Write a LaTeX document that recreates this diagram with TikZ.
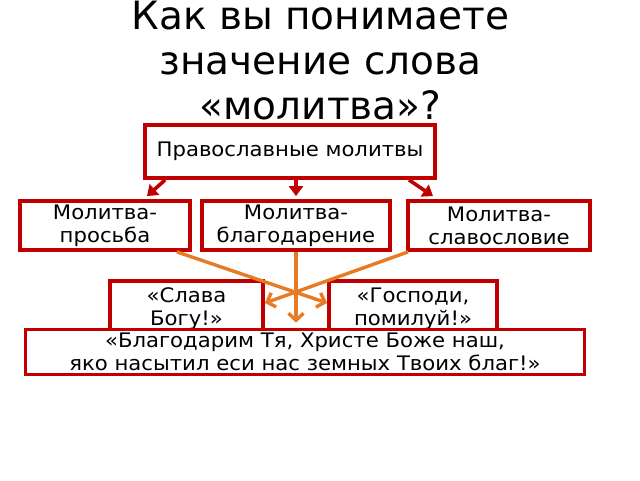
\documentclass[tikz,border=0pt]{standalone}
\usepackage{fontspec}
\setmainfont{DejaVu Sans}
\newfontfamily\boxfont[FakeStretch=1.06]{DejaVu Sans}
\usetikzlibrary{positioning, arrows.meta, calc}
\definecolor{boxRed}{HTML}{C00000}
\definecolor{lineOrange}{HTML}{E97A24}

\tikzset{
	redBox/.style={draw=boxRed, line width=3.8pt, fill=white, align=center, inner sep=0pt,
		font=\boxfont\fontsize{20}{23}\selectfont},
	redArrow/.style={draw=boxRed, line width=3.6pt, -{Triangle[length=10pt,width=14pt]}},
	orangeArrow/.style={draw=lineOrange, line width=3.4pt, -{Straight Barb[length=7pt,width=15pt]}}
}

\begin{document}
\begin{tikzpicture}[x=1pt,y=-1pt]
		
		\useasboundingbox (0,0) rectangle (640,480);
		
		%Title
		\node (title) at (320.5,0.6) [anchor=north, align=center, inner sep=0pt,
		font=\fontsize{39}{45}\selectfont]{Как вы понимаете\\значение слова\\«молитва»?};
		
		%Top box
		\node[redBox, minimum width=290pt, minimum height=53pt] (pravoslav) at (290,151.5) {Православные молитвы};
		
		%Kinds of prayer
		\node[redBox, minimum width=170pt, minimum height=49pt] (prosba) at (105,225.5) {Молитва-\\просьба};
		\node[redBox, minimum width=188pt, minimum height=49pt] (blagodar) at (296,225.5) {Молитва-\\благодарение};
		\node[redBox, minimum width=182pt, minimum height=49pt] (slavoslov) at (499,225.5) {Молитва-\\славословие};
		
		%Short prayers
		\node[redBox, minimum width=153pt, inner ysep=7pt, anchor=north] (slava) at (186.5,279) {«Слава\\Богу!»};
		\node[redBox, minimum width=168pt, inner ysep=7pt, anchor=north] (gospodi) at (413,279) {«Господи,\\помилуй!»};
		
		%Long prayer
		\node[redBox, minimum width=559pt, minimum height=45pt] (blagodarim) at (305,352) {«Благодарим Тя, Христе Боже наш,\\яко насытил еси нас земных Твоих благ!»};
		
		%Red arrows
		\draw[redArrow] ([xshift=22pt]pravoslav.south west) -- ([xshift=42pt,yshift=3pt]prosba.north);
		\draw[redArrow] (blagodar.north |- pravoslav.south) -- ([yshift=3pt]blagodar.north);
		\draw[redArrow] ([xshift=-28pt]pravoslav.south east) -- ([xshift=-66pt,yshift=3pt]slavoslov.north);
		
		%Orange arrows
		\draw[orangeArrow] ([xshift=-15pt]prosba.south east) -- ([yshift=-24pt]gospodi.north west);
		\draw[orangeArrow] ([xshift=2pt]slavoslov.south west) -- ([yshift=-24pt]slava.north east);
		\draw[orangeArrow] (blagodar.south) -- ([yshift=5pt]blagodar.south |- blagodarim.north);
		
\end{tikzpicture}
\end{document}
